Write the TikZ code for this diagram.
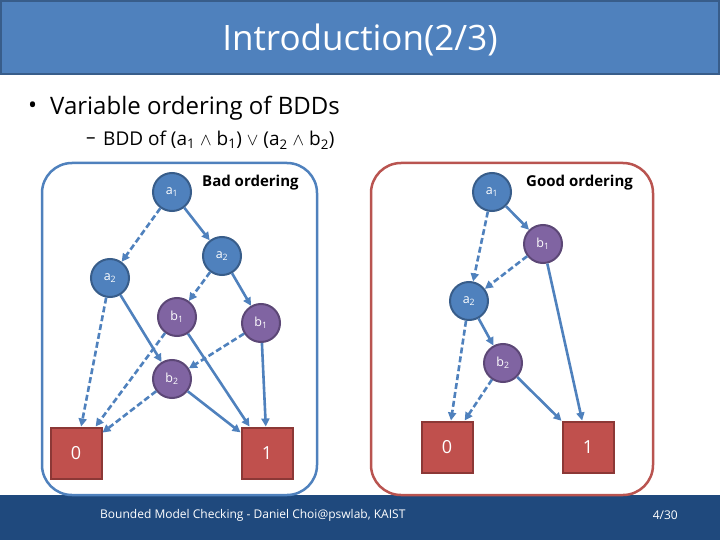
\documentclass[tikz,border=0pt]{standalone}
\usepackage{fontspec}
\setmainfont{Open Sans}
\usetikzlibrary{arrows.meta}
\definecolor{hdrblue}{RGB}{79,129,189}
\definecolor{hdrline}{RGB}{56,93,138}
\definecolor{ftrblue}{RGB}{31,73,125}
\definecolor{avarfill}{RGB}{79,129,189}
\definecolor{avarline}{RGB}{56,93,138}
\definecolor{bvarfill}{RGB}{128,100,162}
\definecolor{bvarline}{RGB}{92,71,118}
\definecolor{leaffill}{RGB}{192,80,77}
\definecolor{leafline}{RGB}{140,56,54}
\definecolor{goodline}{RGB}{185,84,80}

\begin{document}
\begin{tikzpicture}[
    x=1pt, y=-1pt,
    >={Triangle[length=8pt,width=8pt]},
    avar/.style={circle, draw=avarline, fill=avarfill, line width=2pt,
                 minimum size=38pt, inner sep=0pt, text=white,
                 font=\fontsize{12.5}{12.5}\selectfont},
    bvar/.style={avar, draw=bvarline, fill=bvarfill},
    leaf/.style={rectangle, draw=leafline, fill=leaffill, line width=2pt,
                 minimum size=51pt, inner sep=0pt, text=white,
                 font=\fontsize{18}{18}\selectfont},
    hi/.style={->, draw=avarfill, line width=2.6pt},
    lo/.style={hi, dash pattern=on 6pt off 3pt},
    frame/.style={rounded corners=30pt, line width=2.5pt},
    lab/.style={inner sep=0pt, anchor=west,
                font=\fontsize{15}{15}\selectfont\bfseries},
    txt/.style={inner sep=0pt, anchor=west},
  ]
  \useasboundingbox (0,0) rectangle (720,540);

  %% ---- slide header and footer ----------------------------------------
  \draw[fill=hdrblue, draw=hdrline, line width=2pt] (1,1) rectangle (719,74);
  \node[text=white, font=\fontsize{35}{35}\selectfont] (title) at (360,40)
    {Introduction(2/3)};
  \node[txt, font=\fontsize{24}{24}\selectfont] (bul) at (28,108) {•};
  \node[txt, font=\fontsize{24}{24}\selectfont] (item) at (50,108)
    {Variable ordering of BDDs};
  \node[txt, font=\fontsize{19}{19}\selectfont] (dash) at (86,141) {–};
  \node[txt, font=\fontsize{19}{19}\selectfont] (sub) at (103,140)
    {BDD of (a\textsubscript{1} $\wedge$ b\textsubscript{1})
     $\vee$ (a\textsubscript{2} $\wedge$ b\textsubscript{2})};
  \fill[ftrblue] (0,495) rectangle (720,540);
  \node[txt, text=white, font=\fontsize{12}{12}\selectfont] (foot)
    at (100,515) {Bounded Model Checking - Daniel Choi@pswlab, KAIST};
  \node[txt, anchor=east, text=white, font=\fontsize{12}{12}\selectfont]
    (page) at (678,515) {4/30};

  %% ---- frames -----------------------------------------------------------
  \draw[frame, draw=avarfill] (42,163) rectangle (317,495);
  \draw[frame, draw=goodline] (371,163) rectangle (653,495);
  \node[lab] (bad)  at (202,183) {Bad ordering};
  \node[lab] (good) at (526,183) {Good ordering};

  %% ---- bad ordering: a1, a2, b1, b2 ------------------------------------
  \node[avar] (la1)  at (172,192) {a\textsubscript{1}};
  \node[avar] (la2r) at (222,256) {a\textsubscript{2}};
  \node[avar] (la2l) at (110,278) {a\textsubscript{2}};
  \node[bvar] (lb1l) at (177,317) {b\textsubscript{1}};
  \node[bvar] (lb1r) at (261,323) {b\textsubscript{1}};
  \node[bvar] (lb2)  at (172,379) {b\textsubscript{2}};
  \node[leaf] (l0)   at (76,453)  {0};
  \node[leaf] (l1)   at (267,453) {1};

  \draw[lo] (la1)  -- (la2l);
  \draw[hi] (la1)  -- (la2r);
  \draw[lo] (la2l) -- (l0);
  \draw[hi] (la2l) -- (lb2);
  \draw[lo] (la2r) -- (lb1l);
  \draw[hi] (la2r) -- (lb1r);
  \draw[lo] (lb1l) -- (l0);
  \draw[hi] (lb1l) -- (l1);
  \draw[lo] (lb1r) -- (lb2);
  \draw[hi] (lb1r) -- (l1);
  \draw[lo] (lb2)  -- (l0);
  \draw[hi] (lb2)  -- (l1);

  %% ---- good ordering: a1, b1, a2, b2 -----------------------------------
  \node[avar] (ra1) at (492,192) {a\textsubscript{1}};
  \node[bvar] (rb1) at (543,244) {b\textsubscript{1}};
  \node[avar] (ra2) at (469,301) {a\textsubscript{2}};
  \node[bvar] (rb2) at (503,363) {b\textsubscript{2}};
  \node[leaf] (r0)  at (447,447) {0};
  \node[leaf] (r1)  at (588,447) {1};

  \draw[lo] (ra1) -- (ra2);
  \draw[hi] (ra1) -- (rb1);
  \draw[lo] (rb1) -- (ra2);
  \draw[hi] (rb1) -- (r1);
  \draw[lo] (ra2) -- (r0);
  \draw[hi] (ra2) -- (rb2);
  \draw[lo] (rb2) -- (r0);
  \draw[hi] (rb2) -- (r1);

\end{tikzpicture}
\end{document}
